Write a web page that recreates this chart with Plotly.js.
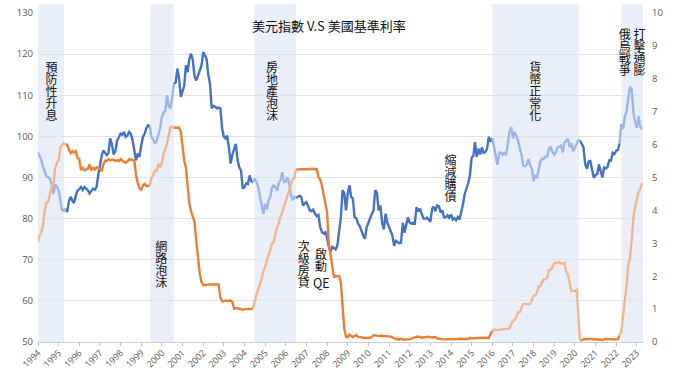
<!DOCTYPE html>
<html><head><meta charset="utf-8">
<script src="https://cdn.plot.ly/plotly-3.0.1.min.js"></script>
<style>html,body{margin:0;padding:0;background:#fff}</style>
</head><body><div id="chart" style="width:677px;height:369px"></div>
<script>
// ---- data (monthly, starting Jan 1994) ----
const startYear = 1994;
const dxy1994_2003 = [
  96.1, 95.2, 94.2, 92.6, 91.4, 90.2, 90.1, 89.6, 88.3, 86.0, 88.3, 87.8,
  86.9, 84.8, 82.2, 81.9, 82.4, 81.6, 84.2, 85.3, 84.4, 83.8, 85.6, 86.8,
  87.2, 87.7, 87.0, 87.7, 87.3, 86.9, 86.1, 86.6, 87.3, 87.0, 87.7, 90.5,
  93.5, 95.3, 96.6, 96.0, 95.4, 96.0, 99.5, 98.0, 95.6, 96.4, 99.0, 99.8,
  100.7, 100.4, 101.1, 99.9, 100.2, 101.1, 100.6, 99.0, 97.0, 94.2, 95.8, 95.0,
  97.8, 99.9, 100.6, 102.0, 102.7, 102.4, 99.9, 99.3, 98.2, 99.0, 100.3, 101.9,
  104.7, 105.9, 106.1, 110.0, 107.4, 106.8, 109.4, 112.8, 113.1, 116.5, 114.0, 109.6,
  110.8, 112.4, 117.3, 115.6, 118.8, 120.1, 118.5, 114.6, 113.6, 114.8, 115.6, 117.2,
  120.5, 119.6, 118.9, 115.0, 112.8, 106.8, 107.4, 107.2, 106.8, 107.0, 106.8, 102.0,
  99.9, 99.5, 100.2, 97.3, 93.4, 95.5, 96.6, 98.2, 94.3, 92.5, 91.7, 87.3
];
const dxy2004_2013 = [
  87.7, 88.6, 88.4, 90.5, 89.1, 88.9, 89.7, 88.9, 87.7, 85.3, 82.8, 81.2,
  83.6, 82.3, 84.4, 85.3, 87.4, 88.1, 87.7, 86.8, 88.7, 89.3, 91.3, 88.9,
  89.0, 90.1, 88.5, 85.8, 84.5, 85.3, 85.0, 85.3, 85.6, 85.3, 83.2, 83.7,
  84.0, 83.0, 82.0, 81.8, 82.2, 81.2, 80.6, 80.9, 78.0, 76.8, 76.4, 76.7,
  75.3, 73.1, 72.0, 73.1, 72.8, 72.5, 73.5, 77.2, 80.3, 86.9, 86.2, 82.0,
  86.1, 88.1, 85.3, 84.9, 80.4, 80.1, 78.8, 78.2, 76.8, 75.9, 75.1, 77.9,
  79.0, 80.4, 81.1, 81.9, 86.9, 86.3, 82.0, 83.2, 78.9, 77.4, 81.2, 79.0,
  77.8, 76.6, 75.9, 73.4, 74.6, 74.3, 74.0, 74.1, 79.0, 76.6, 78.4, 80.3,
  79.0, 78.8, 79.0, 78.8, 82.8, 81.8, 82.4, 81.2, 80.0, 80.0, 80.2, 79.8,
  79.2, 82.4, 82.9, 81.8, 83.2, 83.0, 81.5, 82.0, 80.3, 80.3, 80.8, 80.2
];
const dxy2014_2023 = [
  81.0, 79.8, 80.1, 79.6, 80.4, 79.8, 81.5, 83.5, 86.0, 87.2, 88.6, 90.5,
  94.8, 95.3, 98.6, 95.0, 97.0, 95.6, 97.3, 96.0, 96.2, 97.0, 99.9, 98.7,
  99.6, 97.0, 94.6, 93.1, 95.9, 96.1, 95.5, 96.0, 95.4, 98.5, 101.1, 102.3,
  99.5, 101.1, 100.3, 99.0, 97.0, 95.6, 92.9, 92.7, 93.1, 94.5, 93.0, 92.1,
  89.1, 90.6, 89.9, 91.8, 94.0, 94.5, 94.5, 95.1, 95.1, 97.1, 97.3, 96.2,
  95.6, 96.2, 97.3, 97.5, 97.8, 96.1, 98.5, 98.9, 99.4, 97.4, 98.3, 96.4,
  97.4, 98.1, 99.0, 99.0, 98.3, 97.4, 93.3, 92.1, 93.9, 94.0, 91.9, 89.9,
  90.6, 90.9, 93.2, 91.3, 90.0, 92.4, 92.2, 92.6, 94.2, 94.1, 96.0, 95.7,
  96.5, 96.7, 98.3, 103.0, 101.8, 104.7, 105.9, 108.7, 112.1, 111.5, 105.9, 103.5,
  102.1, 104.9, 102.5, 101.7
];
const fed1994_2003 = [
  3.05, 3.25, 3.34, 3.56, 4.01, 4.25, 4.26, 4.47, 4.73, 4.76, 5.29, 5.45,
  5.53, 5.92, 5.98, 6.05, 6.01, 6.00, 5.85, 5.74, 5.80, 5.76, 5.80, 5.60,
  5.56, 5.22, 5.31, 5.22, 5.24, 5.27, 5.40, 5.22, 5.30, 5.24, 5.31, 5.29,
  5.25, 5.19, 5.39, 5.51, 5.50, 5.56, 5.52, 5.54, 5.54, 5.50, 5.52, 5.50,
  5.56, 5.51, 5.49, 5.45, 5.49, 5.56, 5.54, 5.55, 5.51, 5.07, 4.83, 4.68,
  4.63, 4.76, 4.81, 4.74, 4.74, 4.76, 4.99, 5.07, 5.22, 5.20, 5.42, 5.30,
  5.45, 5.73, 5.85, 6.02, 6.27, 6.53, 6.54, 6.50, 6.52, 6.51, 6.51, 6.40,
  5.98, 5.49, 5.31, 4.80, 4.21, 3.97, 3.77, 3.65, 3.07, 2.49, 2.09, 1.82,
  1.73, 1.74, 1.73, 1.75, 1.75, 1.75, 1.73, 1.74, 1.75, 1.75, 1.34, 1.24,
  1.24, 1.26, 1.25, 1.26, 1.26, 1.22, 1.01, 1.03, 1.01, 1.01, 1.00, 0.98
];
const fed2004_2013 = [
  1.00, 1.01, 1.00, 1.00, 1.00, 1.03, 1.26, 1.43, 1.61, 1.76, 1.93, 2.16,
  2.28, 2.50, 2.63, 2.79, 3.00, 3.04, 3.26, 3.50, 3.62, 3.78, 4.00, 4.16,
  4.29, 4.49, 4.59, 4.79, 4.94, 4.99, 5.24, 5.25, 5.25, 5.25, 5.25, 5.24,
  5.25, 5.26, 5.26, 5.25, 5.25, 5.25, 5.26, 5.02, 4.94, 4.76, 4.49, 4.24,
  3.94, 2.98, 2.61, 2.28, 1.98, 2.00, 2.01, 2.00, 1.81, 0.97, 0.39, 0.16,
  0.15, 0.22, 0.18, 0.15, 0.18, 0.21, 0.16, 0.16, 0.15, 0.12, 0.12, 0.12,
  0.11, 0.13, 0.16, 0.20, 0.20, 0.18, 0.18, 0.19, 0.19, 0.19, 0.19, 0.18,
  0.17, 0.16, 0.14, 0.10, 0.09, 0.09, 0.07, 0.10, 0.08, 0.07, 0.08, 0.07,
  0.08, 0.10, 0.13, 0.14, 0.16, 0.16, 0.16, 0.13, 0.14, 0.16, 0.16, 0.16,
  0.14, 0.15, 0.14, 0.15, 0.11, 0.09, 0.09, 0.08, 0.08, 0.09, 0.08, 0.09
];
const fed2014_2023 = [
  0.07, 0.07, 0.08, 0.09, 0.09, 0.10, 0.09, 0.09, 0.09, 0.09, 0.09, 0.12,
  0.11, 0.11, 0.11, 0.12, 0.12, 0.13, 0.13, 0.14, 0.14, 0.12, 0.12, 0.24,
  0.34, 0.38, 0.36, 0.37, 0.37, 0.38, 0.39, 0.40, 0.40, 0.40, 0.41, 0.54,
  0.65, 0.66, 0.79, 0.90, 0.91, 1.04, 1.15, 1.16, 1.15, 1.15, 1.16, 1.30,
  1.41, 1.42, 1.51, 1.69, 1.70, 1.82, 1.91, 1.91, 1.95, 2.19, 2.20, 2.27,
  2.40, 2.40, 2.41, 2.42, 2.39, 2.38, 2.40, 2.13, 2.04, 1.83, 1.55, 1.55,
  1.55, 1.58, 0.65, 0.05, 0.05, 0.08, 0.09, 0.10, 0.09, 0.09, 0.09, 0.09,
  0.09, 0.08, 0.07, 0.07, 0.06, 0.08, 0.10, 0.09, 0.08, 0.08, 0.08, 0.08,
  0.08, 0.08, 0.20, 0.33, 0.77, 1.21, 1.68, 2.33, 2.56, 3.08, 3.78, 4.10,
  4.33, 4.57, 4.65, 4.83
];
// highlighted periods (shaded bands)
const bandStarts = ['1994-01-01', '1999-06-10', '2004-06-23', '2016-01-06', '2022-04-01'];
const bandEnds   = ['1995-04-05', '2000-07-30', '2006-06-28', '2020-03-15', '2023-04-20'];
const eventLabels = ['預防性升息', '網路泡沫', '房地產泡沫', '次級房貸', '啟動', '縮減購債', '貨幣正常化', '俄烏戰爭', '打擊通膨'];
const qeLabel = 'QE';
const titleText = '美元指數 V.S 美國基準利率';

// ---- build ----
const dxy = dxy1994_2003.concat(dxy2004_2013, dxy2014_2023);
const fed = fed1994_2003.concat(fed2004_2013, fed2014_2023);
const months = dxy.map((_, i) => {
  const y = startYear + Math.floor(i / 12), m = (i % 12) + 1;
  return y + '-' + String(m).padStart(2, '0') + '-01';
});
const inBand = d => bandStarts.some((s, k) => d >= s && d <= bandEnds[k]);
function split(vals) {
  const flags = months.map(inBand);
  const dark = vals.map((v, i) => flags[i] ? null : v);
  const light = vals.map((v, i) => (flags[i] || flags[i - 1] || flags[i + 1]) ? v : null);
  return [dark, light];
}
const [dxyDark, dxyLight] = split(dxy);
const [fedDark, fedLight] = split(fed);

const BLUE = '#4472C4', BLUE_L = '#9DB6E4', ORANGE = '#ED7D31', ORANGE_L = '#F2B690';
const LW = 2.4;
const traces = [
  {x: months, y: dxyDark, mode: 'lines', line: {color: BLUE, width: LW}, connectgaps: false, hoverinfo: 'skip'},
  {x: months, y: dxyLight, mode: 'lines', line: {color: BLUE_L, width: LW}, connectgaps: false, hoverinfo: 'skip'},
  {x: months, y: fedDark, yaxis: 'y2', mode: 'lines', line: {color: ORANGE, width: LW}, connectgaps: false, hoverinfo: 'skip'},
  {x: months, y: fedLight, yaxis: 'y2', mode: 'lines', line: {color: ORANGE_L, width: LW}, connectgaps: false, hoverinfo: 'skip'}
];

// layout geometry (pixels)
const W = 677, H = 369, ML = 38, MR = 34, MT = 13, MB = 27;
const PW = W - ML - MR, PH = H - MT - MB;
const px2x = p => (p - ML) / PW;
const py2y = p => (H - MB - p) / PH;

const shapes = bandStarts.map((s, k) => ({
  type: 'rect', xref: 'x', yref: 'paper', x0: s, x1: bandEnds[k], y0: 0, y1: py2y(4),
  fillcolor: '#E9EEF8', line: {width: 0}, layer: 'below'
}));

const CJK = '"Noto Sans CJK TC", "Noto Sans CJK SC", sans-serif';
const LABEL_SIZE = 12;
// vertical labels: [label index, centre x px, top of first character px]
const labelPlaces = [
  [0, 51.5, 61], [1, 161.2, 240], [2, 272, 61], [3, 303.8, 240], [4, 321, 248],
  [5, 450.5, 154.5], [6, 535.3, 61], [7, 624.7, 28.5], [8, 639.5, 28]
];
const annotations = labelPlaces.map(([li, cx, top]) => ({
  xref: 'paper', yref: 'paper', x: px2x(cx), y: py2y(top + 30),
  text: eventLabels[li], showarrow: false, xanchor: 'center', yanchor: 'middle',
  font: {family: CJK, size: LABEL_SIZE, color: '#111'}
}));
annotations.push({xref: 'paper', yref: 'paper', x: px2x(321.5), y: py2y(282.5), text: qeLabel, showarrow: false,
  xanchor: 'center', yanchor: 'middle', font: {family: CJK, size: 12.5, color: '#111'}});
annotations.push({xref: 'paper', yref: 'paper', x: px2x(329), y: py2y(25.7), text: titleText, showarrow: false,
  xanchor: 'center', yanchor: 'middle', font: {family: CJK, size: 13, color: '#111'}});

const TICKFONT = {family: '"Open Sans", sans-serif', size: 9.5, color: '#595959'};
const layout = {
  width: W, height: H, margin: {l: ML, r: MR, t: MT, b: MB, pad: 0},
  paper_bgcolor: '#fff', plot_bgcolor: '#fff', showlegend: false,
  xaxis: {type: 'date', range: ['1994-01-01', '2023-04-20'], tick0: '1994-01-01', dtick: 'M12', tickformat: '%Y',
    tickangle: -45, ticks: 'outside', ticklen: 3, tickcolor: '#BFBFBF', showline: true, linecolor: '#D0D0D0',
    showgrid: false, zeroline: false, tickfont: {family: '"Open Sans", sans-serif', size: 9, color: '#595959'},
    automargin: false, ticklabelstandoff: -2},
  yaxis: {range: [50, 130], dtick: 10, tick0: 50, gridcolor: '#E3E3E3', gridwidth: 1, zeroline: false, showline: false,
    ticks: '', tickfont: TICKFONT, automargin: false, ticklabelstandoff: 4},
  yaxis2: {range: [0, 10], dtick: 1, tick0: 0, overlaying: 'y', side: 'right', showgrid: false, zeroline: false,
    showline: false, ticks: '', tickfont: TICKFONT, automargin: false, ticklabelstandoff: 8},
  shapes: shapes, annotations: annotations
};
const gd = document.getElementById('chart');
Plotly.newPlot(gd, traces, layout, {staticPlot: true, displayModeBar: false}).then(() => {
  // turn the event labels into vertical (top-to-bottom) text, as in the original
  gd.querySelectorAll('g.annotation').forEach(g => {
    const idx = +g.getAttribute('data-index');
    if (!(idx < labelPlaces.length)) return;
    const [li, cx, top] = labelPlaces[idx];
    const t = g.querySelector('text.annotation-text');
    if (!t) return;
    while (t.firstChild) t.removeChild(t.firstChild);
    t.textContent = eventLabels[li];
    t.style.writingMode = 'vertical-rl';
    t.setAttribute('text-anchor', 'start');
    const svg = t.ownerSVGElement;
    const p = svg.createSVGPoint(); p.x = cx; p.y = top;
    const q = p.matrixTransform(t.getScreenCTM().inverse());
    t.setAttribute('x', q.x); t.setAttribute('y', q.y);
  });
});
</script></body></html>
